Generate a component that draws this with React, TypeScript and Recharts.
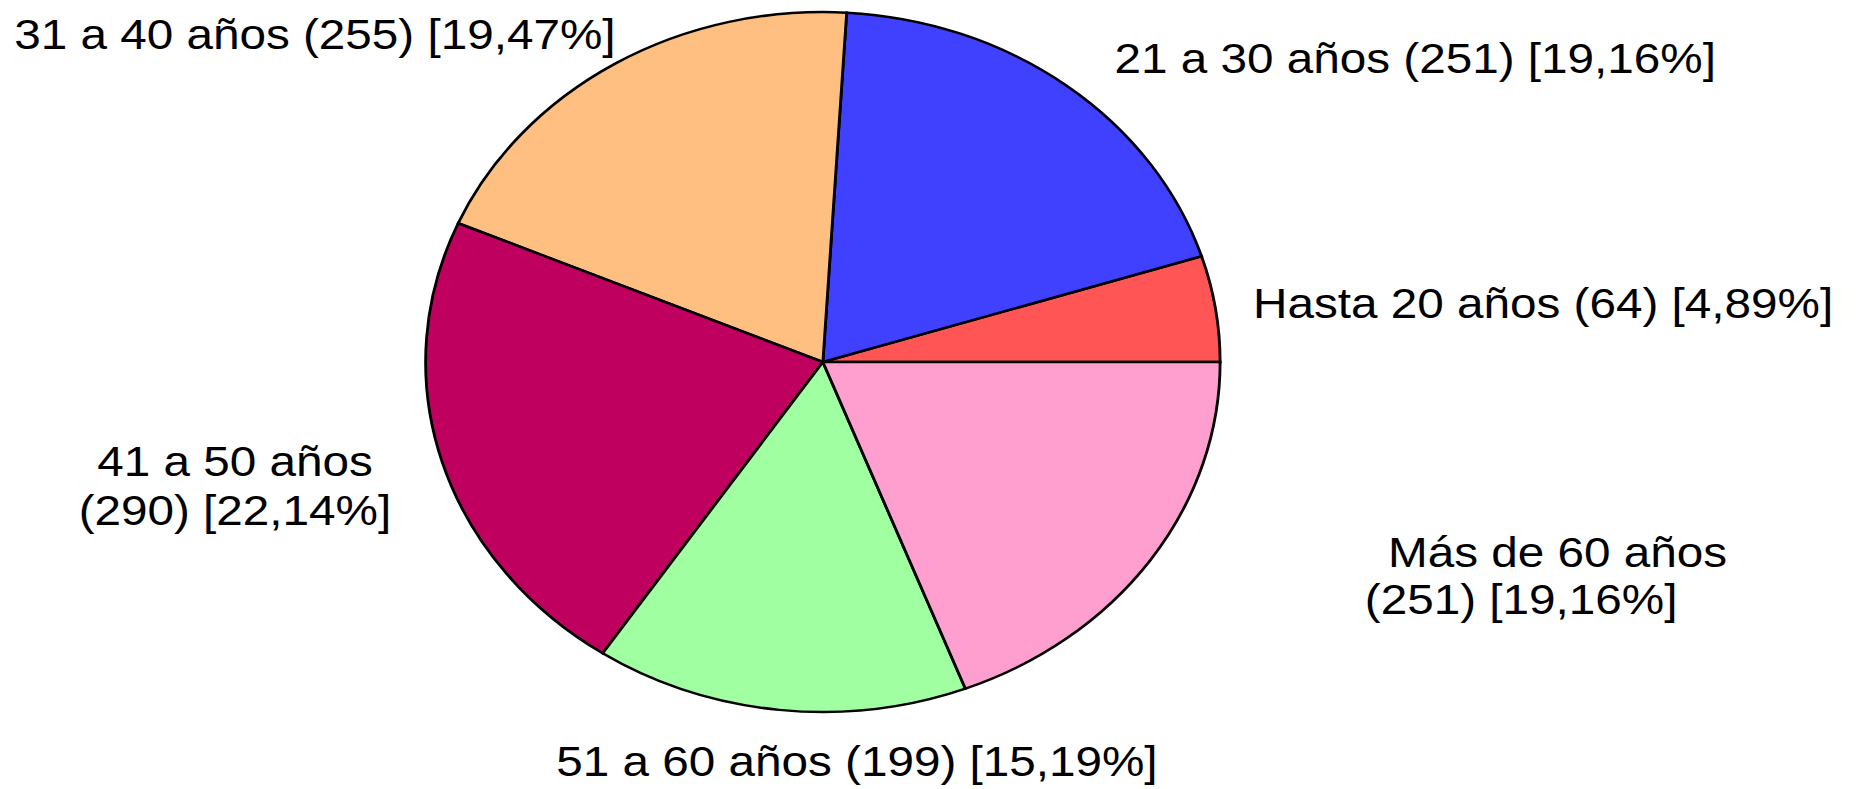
import { PieChart, Pie, Cell } from 'recharts';

const categories = ['Hasta 20 años', '21 a 30 años', '31 a 40 años', '41 a 50 años', '51 a 60 años', 'Más de 60 años'];
const counts = [64, 251, 255, 290, 199, 251];
const colors = ['#FF5555', '#4040FF', '#FFBF80', '#BF005F', '#A0FFA0', '#FF9FCF'];

const total = counts.reduce((a, b) => a + b, 0);
const data = categories.map((name, i) => ({
  name,
  value: counts[i],
  pct: ((counts[i] / total) * 100).toFixed(2).replace('.', ','),
}));

// the original image is stretched horizontally, so the chart is drawn narrow and scaled
const STRETCH = 1.135;
const W = 1639;
const H = 789;

// label anchors (unscaled svg coords), wrapped labels get two lines
const labelLayout = [
  { x: [1104], y: [318], anchor: 'start', wrap: false },
  { x: [982], y: [73], anchor: 'start', wrap: false },
  { x: [12.5], y: [49], anchor: 'start', wrap: false },
  { x: [207, 207], y: [476, 525], anchor: 'middle', wrap: true },
  { x: [755], y: [776], anchor: 'middle', wrap: false },
  { x: [1223, 1202.5], y: [567, 614], anchor: 'start', wrap: true },
];

function renderLabel(props: any) {
  const { index } = props;
  const d = data[index];
  const lay = labelLayout[index];
  const lines = lay.wrap
    ? [d.name, `(${d.value}) [${d.pct}%]`]
    : [`${d.name} (${d.value}) [${d.pct}%]`];
  return (
    <g key={`lbl-${index}`}>
      {lines.map((t, j) => (
        <text
          key={j}
          x={lay.x[j]}
          y={lay.y[j]}
          textAnchor={lay.anchor as any}
          fontFamily="'Liberation Sans', Arial, sans-serif"
          fontSize={42}
          fill="#000"
        >
          {t}
        </text>
      ))}
    </g>
  );
}

export default function App() {
  return (
    <div style={{ position: 'absolute', left: 0, top: 0, width: 1860, height: H, background: '#fff', overflow: 'hidden' }}>
      <div style={{ width: W, height: H, transform: `scaleX(${STRETCH})`, transformOrigin: '0 0' }}>
        <PieChart width={W} height={H} margin={{ top: 0, right: 0, bottom: 0, left: 0 }}>
          <Pie
            data={data}
            dataKey="value"
            cx={725}
            cy={362}
            outerRadius={350}
            startAngle={0}
            endAngle={360}
            stroke="#000"
            strokeWidth={2.5}
            label={renderLabel}
            labelLine={false}
            isAnimationActive={false}
          >
            {data.map((d, i) => (
              <Cell key={d.name} fill={colors[i]} />
            ))}
          </Pie>
        </PieChart>
      </div>
    </div>
  );
}
